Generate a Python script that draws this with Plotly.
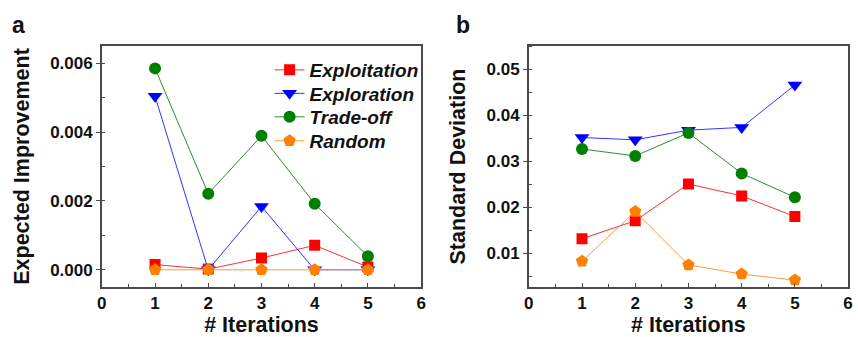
import plotly.graph_objects as go

iterations = [1, 2, 3, 4, 5]
series_names = ["Exploitation", "Exploration", "Trade-off", "Random"]

ei_exploitation = [0.00015, 0.00002, 0.00034, 0.00071, 0.00008]
ei_exploration = [0.00504, 0.00000, 0.00184, 0.00000, 0.00000]
ei_tradeoff = [0.00585, 0.00221, 0.00389, 0.00192, 0.00039]
ei_random = [0.0, 0.0, 0.0, 0.0, 0.0]

sd_exploitation = [0.0132, 0.0171, 0.0251, 0.0225, 0.0180]
sd_exploration = [0.0352, 0.0347, 0.0368, 0.0374, 0.0466]
sd_tradeoff = [0.0327, 0.0312, 0.0362, 0.0274, 0.0222]
sd_random = [0.0083, 0.0191, 0.0075, 0.0055, 0.0042]

colors = ["#FF0000", "#0000FF", "#008000", "#FF8000"]
line_colors = ["#FF3030", "#3333FF", "#2E8B2E", "#FF9933"]
symbols = ["square", "triangle-down", "circle", "pentagon"]
sizes = [11, 13, 12, 13]

ei_series = [ei_exploitation, ei_exploration, ei_tradeoff, ei_random]
sd_series = [sd_exploitation, sd_exploration, sd_tradeoff, sd_random]
legend_ids = ["legend", "legend2", "legend3", "legend4"]

fig = go.Figure()
for i, name in enumerate(series_names):
    fig.add_trace(go.Scatter(
        x=iterations, y=ei_series[i], name="<b><i>" + name + "</i></b>", mode="lines+markers",
        line=dict(color=line_colors[i], width=1),
        marker=dict(symbol=symbols[i], size=sizes[i], color=colors[i], line=dict(width=0)),
        xaxis="x", yaxis="y", showlegend=True, legend=legend_ids[i]))
for i, name in enumerate(series_names):
    fig.add_trace(go.Scatter(
        x=iterations, y=sd_series[i], name=name, mode="lines+markers",
        line=dict(color=line_colors[i], width=1),
        marker=dict(symbol=symbols[i], size=sizes[i], color=colors[i], line=dict(width=0)),
        xaxis="x2", yaxis="y2", showlegend=False))

font_family = "Liberation Sans, Arial, sans-serif"
tickfont = dict(family=font_family, size=17, color="#111", weight="bold")
titlefont = dict(family=font_family, size=21.5, color="#111", weight="bold")
axcol = "#4a4a4a"

def xaxis(domain, anchor):
    return dict(domain=domain, anchor=anchor, range=[0, 6], dtick=1, tick0=0,
                showline=True, linecolor=axcol, linewidth=1.5, mirror=True,
                ticks="inside", ticklen=4, tickcolor=axcol,
                minor=dict(ticks="inside", dtick=0.5, ticklen=3, tickcolor=axcol),
                showgrid=False, zeroline=False, tickfont=tickfont,
                title=dict(text="# Iterations", font=titlefont, standoff=4))

def yaxis(domain, anchor, rng, dtick, fmt, title, minor_dtick, tick0):
    return dict(domain=domain, anchor=anchor, range=rng, dtick=dtick, tick0=tick0,
                tickformat=fmt,
                showline=True, linecolor=axcol, linewidth=1.5, mirror=True,
                ticks="outside", ticklen=4, tickcolor=axcol,
                minor=dict(ticks="inside", dtick=minor_dtick, ticklen=3, tickcolor=axcol),
                showgrid=False, zeroline=False, tickfont=tickfont,
                title=dict(text=title, font=titlefont, standoff=15))

def legend(ypx):
    return dict(x=0.312, y=1 - ypx / 337, xanchor="left", yanchor="middle",
                bgcolor="rgba(0,0,0,0)", borderwidth=0,
                font=dict(family=font_family, size=19, color="#111"),
                itemwidth=30)

ydom = [0.1484, 0.8635]
fig.update_layout(
    width=858, height=337,
    margin=dict(l=0, r=0, t=0, b=0),
    paper_bgcolor="white", plot_bgcolor="white",
    font=dict(family=font_family, color="#111"),
    xaxis=xaxis([0.1142, 0.4907], "y"),
    yaxis=yaxis(ydom, "x", [-0.0005, 0.0065], 0.002, ".3f", "Expected Improvement", 0.001, 0),
    xaxis2=xaxis([0.6177, 0.9942], "y2"),
    yaxis2=yaxis(ydom, "x2", [0.0027, 0.0551], 0.01, ".2f", "Standard Deviation", 0.005, 0),
    legend=legend(70),
    legend2=legend(93.5),
    legend3=legend(117),
    legend4=legend(141),
    annotations=[
        dict(text="<b>a</b>", x=0.006, y=0.925, xref="paper", yref="paper",
             xanchor="left", yanchor="middle", showarrow=False,
             font=dict(family=font_family, size=23, color="#111")),
        dict(text="<b>b</b>", x=0.530, y=0.925, xref="paper", yref="paper",
             xanchor="left", yanchor="middle", showarrow=False,
             font=dict(family=font_family, size=23, color="#111")),
    ],
)

fig.write_html("out.html")
